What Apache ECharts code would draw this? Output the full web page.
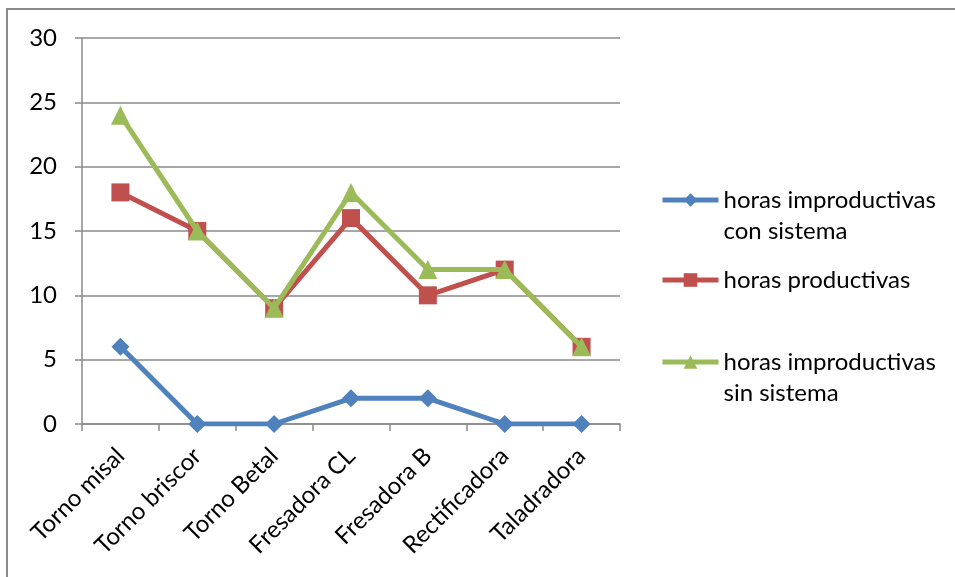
<!DOCTYPE html>
<html>
<head>
<meta charset="utf-8">
<script src="https://cdn.jsdelivr.net/npm/echarts@6/dist/echarts.min.js"></script>
<style>
  html, body { margin: 0; padding: 0; background: #ffffff; }
  #chart { width: 955px; height: 577px; }
</style>
</head>
<body>
<div id="chart"></div>
<script>
// Machines on the category axis
const machines = ['Torno misal', 'Torno briscor', 'Torno Betal', 'Fresadora CL', 'Fresadora B', 'Rectificadora', 'Taladradora'];

// Hours per machine
const idleWithSystem = [6, 0, 0, 2, 2, 0, 0];
const productiveHours = [18, 15, 9, 16, 10, 12, 6];
const idleWithoutSystem = [24, 15, 9, 18, 12, 12, 6];

// Series names and the way they wrap in the legend
const seriesNames = ['horas improductivas con sistema', 'horas productivas', 'horas improductivas sin sistema'];
const legendLabels = ['horas improductivas\ncon sistema', 'horas productivas', 'horas improductivas\nsin sistema'];

// Value axis ticks
const yTicks = [0, 5, 10, 15, 20, 25, 30];

const FONT = 'Lato, "Liberation Sans", sans-serif';
const GRID_GRAY = '#8a8a8a';
const LINE_H = 31;

const chart = echarts.init(document.getElementById('chart'), null, { renderer: 'canvas' });

// One legend block per series; a wrapped label gets a leading blank line
// so its first line sits level with the icon.
function legendFor(i, iconY) {
  const multi = legendLabels[i].indexOf('\n') >= 0;
  const text = multi ? '\n' + legendLabels[i] : legendLabels[i];
  const half = multi ? LINE_H * 1.5 : LINE_H * 0.5;
  return {
    show: true,
    orient: 'vertical',
    left: 660,
    top: iconY - half,
    padding: 0,
    itemWidth: 56,
    itemHeight: 17,
    selectedMode: false,
    data: [seriesNames[i]],
    formatter: function () { return text; },
    lineStyle: { width: 5 },
    textStyle: {
      fontFamily: FONT,
      fontSize: 24,
      color: '#000000',
      lineHeight: LINE_H
    }
  };
}

const option = {
  animation: false,
  backgroundColor: '#ffffff',
  grid: { left: 82, right: 335, top: 38, bottom: 153 },
  legend: [
    legendFor(0, 200),
    legendFor(1, 280),
    legendFor(2, 362)
  ],
  xAxis: {
    type: 'category',
    data: machines,
    boundaryGap: true,
    axisLine: { show: true, lineStyle: { color: GRID_GRAY, width: 1.5 } },
    axisTick: { show: true, length: 7, alignWithLabel: false, lineStyle: { color: GRID_GRAY, width: 1.5 } },
    axisLabel: {
      interval: 0,
      rotate: 45,
      margin: 28,
      fontFamily: FONT,
      fontSize: 24,
      color: '#000000'
    },
    splitLine: { show: false }
  },
  yAxis: {
    type: 'value',
    min: yTicks[0],
    max: yTicks[yTicks.length - 1],
    interval: 5,
    axisLine: { show: true, lineStyle: { color: GRID_GRAY, width: 1.5 } },
    axisTick: { show: true, length: 7, lineStyle: { color: GRID_GRAY, width: 1.5 } },
    axisLabel: {
      margin: 25,
      fontFamily: FONT,
      fontSize: 24,
      color: '#000000'
    },
    splitLine: { show: true, lineStyle: { color: GRID_GRAY, width: 1.5 } }
  },
  graphic: [{
    type: 'rect',
    silent: true,
    shape: { x: 7, y: 9, width: 1200, height: 1000 },
    style: { fill: 'none', stroke: GRID_GRAY, lineWidth: 2 },
    z: -10
  }],
  series: [
    {
      name: seriesNames[0],
      type: 'line',
      data: idleWithSystem,
      symbol: 'diamond',
      symbolSize: 18,
      showAllSymbol: true,
      color: '#4F81BD',
      lineStyle: { width: 5, color: '#4F81BD' },
      itemStyle: { color: '#4F81BD' },
      z: 2
    },
    {
      name: seriesNames[1],
      type: 'line',
      data: productiveHours,
      symbol: 'rect',
      symbolSize: 18,
      showAllSymbol: true,
      color: '#C0504D',
      lineStyle: { width: 5, color: '#C0504D' },
      itemStyle: { color: '#C0504D' },
      z: 3
    },
    {
      name: seriesNames[2],
      type: 'line',
      data: idleWithoutSystem,
      symbol: 'triangle',
      symbolSize: 19,
      showAllSymbol: true,
      color: '#9BBB59',
      lineStyle: { width: 5, color: '#9BBB59' },
      itemStyle: { color: '#9BBB59' },
      z: 4
    }
  ]
};

chart.setOption(option);
</script>
</body>
</html>
